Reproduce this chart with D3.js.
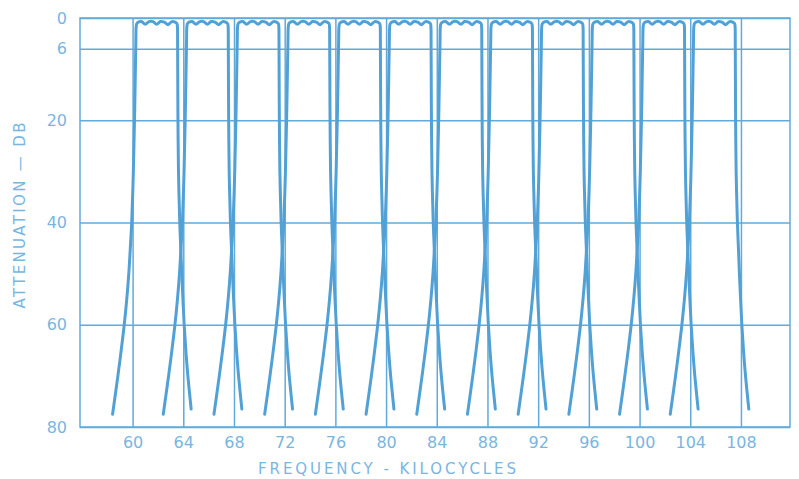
<!DOCTYPE html>
<html>
<head>
<meta charset="utf-8">
<script src="https://cdn.jsdelivr.net/npm/d3@7"></script>
<style>
  body { margin: 0; background: #fff; }
  text { font-family: "DejaVu Sans", sans-serif; fill: #79b6df; }
</style>
</head>
<body>
<div id="chart"></div>
<script>
// channel lower band edges (kc)
var channels = [60, 64, 68, 72, 76, 80, 84, 88, 92, 96, 100, 104];
var bandWidth = 4;

// skirt shape: attenuation (dB) vs offset from band edge (kc)
var lowerSkirtDb     = [77.5, 70, 65, 60, 55, 50, 45, 40, 30, 20, 10, 4, 1.8];
var lowerSkirtOffset = [-1.58, -1.16, -0.9, -0.66, -0.46, -0.3, -0.18, -0.07, 0.06, 0.15, 0.22, 0.26, 0.28];
var upperSkirtDb     = [1.8, 4, 10, 20, 30, 40, 45, 50, 55, 60, 65, 70, 76.5];
var upperSkirtOffset = [-0.46, -0.45, -0.44, -0.42, -0.38, -0.28, -0.2, -0.12, -0.03, 0.07, 0.2, 0.36, 0.62];

// passband ripple: offset from lower edge (kc) and attenuation (dB)
var rippleOffset = [0.33, 0.45, 0.7, 1.0, 1.3, 1.6, 1.9, 2.2, 2.5, 2.8, 3.1, 3.35, 3.5];
var rippleDb     = [1.1, 0.8, 0.7, 1.2, 0.7, 0.7, 1.2, 0.7, 0.8, 1.3, 0.7, 0.8, 1.1];

var xTicks = [60, 64, 68, 72, 76, 80, 84, 88, 92, 96, 100, 104, 108];
var yTicks = [0, 6, 20, 40, 60, 80];

var width = 799;
var height = 479;
var margin = { top: 18, right: 9, bottom: 52, left: 80 };
var lineColor = "#52a1d6";
var gridColor = "#62aad9";

var svg = d3.select("#chart").append("svg").attr("width", width).attr("height", height);

var xScale = d3.scaleLinear()
    .domain([55.85, 111.87])
    .range([margin.left, width - margin.right]);

var yScale = d3.scaleLinear()
    .domain([0, 80])
    .range([margin.top, height - margin.bottom]);

var plotW = width - margin.left - margin.right;
var plotH = height - margin.top - margin.bottom;

// grid + tick labels
var gx = svg.append("g")
    .attr("transform", "translate(0," + (height - margin.bottom) + ")")
    .call(d3.axisBottom(xScale).tickValues(xTicks).tickSize(-plotH).tickPadding(10));

var gy = svg.append("g")
    .attr("transform", "translate(" + margin.left + ",0)")
    .call(d3.axisLeft(yScale).tickValues(yTicks).tickSize(-plotW).tickPadding(13));

[gx, gy].forEach(function(g) {
    g.select(".domain").remove();
    g.selectAll(".tick line").attr("stroke", gridColor).attr("stroke-width", 1.5);
    g.selectAll(".tick text")
        .attr("fill", "#79b6df")
        .style("font-family", "'DejaVu Sans', sans-serif")
        .style("font-size", "16px");
});

// frame
svg.append("rect")
    .attr("x", margin.left).attr("y", margin.top)
    .attr("width", plotW).attr("height", plotH)
    .attr("fill", "none").attr("stroke", gridColor).attr("stroke-width", 1.5);

// build each channel response
function channelPoints(f0) {
    var pts = [];
    lowerSkirtDb.forEach(function(db, i) { pts.push([f0 + lowerSkirtOffset[i], db]); });
    rippleDb.forEach(function(db, i) { pts.push([f0 + rippleOffset[i], db]); });
    upperSkirtDb.forEach(function(db, i) { pts.push([f0 + bandWidth + upperSkirtOffset[i], db]); });
    return pts;
}

var line = d3.line()
    .x(function(d) { return xScale(d[0]); })
    .y(function(d) { return yScale(d[1]); })
    .curve(d3.curveCatmullRom.alpha(0.5));

svg.append("g")
    .selectAll("path")
    .data(channels)
    .enter()
    .append("path")
    .attr("fill", "none")
    .attr("stroke", lineColor)
    .attr("stroke-width", 3)
    .attr("stroke-linecap", "round")
    .attr("stroke-linejoin", "round")
    .attr("d", function(f0) { return line(channelPoints(f0)); });

// axis titles
svg.append("text")
    .attr("x", 387)
    .attr("y", 474)
    .attr("text-anchor", "middle")
    .attr("font-size", "15px")
    .attr("textLength", 258)
    .attr("lengthAdjust", "spacing")
    .text("FREQUENCY  -  KILOCYCLES");

svg.append("text")
    .attr("transform", "translate(25,215.5) rotate(-90)")
    .attr("text-anchor", "middle")
    .attr("font-size", "15px")
    .attr("textLength", 186)
    .attr("lengthAdjust", "spacing")
    .text("ATTENUATION — DB");
</script>
</body>
</html>
